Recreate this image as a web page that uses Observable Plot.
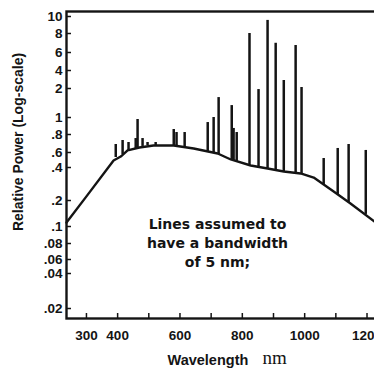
<!DOCTYPE html>
<html><head><meta charset="utf-8">
<script src="https://cdn.jsdelivr.net/npm/d3@7"></script>
<script src="https://cdn.jsdelivr.net/npm/@observablehq/plot@0.6"></script>
<style>body{margin:0;background:#fff;overflow:hidden} svg{overflow:hidden !important}</style>
</head><body><div id="chart"></div>
<script>
// Continuum curve (wavelength nm, relative power)
const curveNm  = [236, 300, 387, 410, 432, 470, 515, 580, 644, 721, 763, 827, 881, 933, 987, 1029, 1061, 1093, 1147, 1224];
const curveVal = [0.111, 0.218, 0.483, 0.538, 0.620, 0.650, 0.671, 0.671, 0.640, 0.584, 0.497, 0.422, 0.392, 0.368, 0.353, 0.324, 0.280, 0.242, 0.185, 0.114];

// Emission lines: wavelength, base (on continuum) and tip values
const lineNm   = [394, 416, 435, 458, 464, 480, 496, 522, 580, 589, 615, 689, 708, 724, 766, 772, 782, 823, 852, 881, 907, 933, 971, 990, 1061, 1106, 1141, 1196];
const lineBase = [0.524, 0.568, 0.620, 0.640, 0.650, 0.661, 0.671, 0.671, 0.671, 0.671, 0.650, 0.610, 0.600, 0.568, 0.497, 0.483, 0.471, 0.434, 0.411, 0.392, 0.376, 0.364, 0.353, 0.353, 0.280, 0.227, 0.190, 0.138];
const lineTop  = [0.682, 0.727, 0.704, 0.750, 0.974, 0.750, 0.704, 0.704, 0.854, 0.821, 0.821, 0.936, 1.0, 1.61, 1.33, 0.866, 0.821, 8.0, 1.95, 9.5, 6.9, 2.72, 6.67, 2.08, 0.510, 0.640, 0.682, 0.620];

// Axis ticks (the printed log axis is unevenly spaced; its scale follows the printed tick positions)
const yTicks      = [10, 8, 6, 4, 2, 1, 0.8, 0.6, 0.4, 0.2, 0.1, 0.08, 0.06, 0.04, 0.02];
const yTickLabels = ["10", "8", "6", "4", "2", "1", ".8", ".6", ".4", ".2", ".1", ".08", ".06", ".04", ".02"];
const xTickMarks  = [300, 400, 500, 600, 700, 800, 900, 1000, 1100, 1200];
const xTicks      = [300, 400, 600, 800, 1000, 1200];
const xTickLabels = ["300", "400", "600", "800", "1000", "1200"];

const yLabel = "Relative Power (Log-scale)";
const xLabel = "Wavelength";
const xUnit = "nm";
const note = "Lines assumed to\nhave a bandwidth\nof 5 nm;";

const curve = curveNm.map((x, i) => ({x, y: curveVal[i]}));
const lines = lineNm.map((x, i) => ({x, y1: lineBase[i], y2: lineTop[i]}));
const ink = "#141414";

// scale configuration: piecewise log scale matching the printed axis
const yDomain = [10.7, ...yTicks, 0.0164];
const yRange  = [11, 16, 33, 52, 70, 88, 117, 134, 152, 167, 200, 226, 243, 259, 273, 308, 318];

const chart = Plot.plot({
  width: 374, height: 372,
  marginLeft: 66, marginRight: 0, marginTop: 11, marginBottom: 54,
  style: {fontFamily: "'Liberation Sans', Arial, sans-serif", color: ink, background: "#fff"},
  x: {domain: [236, 1224], label: null, axis: null},
  y: {type: "log", domain: yDomain, range: yRange, label: null, axis: null},
  marks: [
    Plot.frame({stroke: ink, strokeWidth: 2.4, insetRight: -8}),
    Plot.tickY(yTicks, {y: d => d, insetRight: 303, stroke: ink, strokeWidth: 1.5}),
    Plot.tickX(xTickMarks, {x: d => d, insetTop: 302, stroke: ink, strokeWidth: 1.5}),
    Plot.text(yTicks, {y: d => d, text: (d, i) => yTickLabels[i], frameAnchor: "left", textAnchor: "end", dx: -4, fontSize: 13.5, fontWeight: "bold", fill: ink}),
    Plot.text(xTicks, {x: d => d, text: (d, i) => xTickLabels[i], frameAnchor: "bottom", dy: 21, fontSize: 13.5, fontWeight: "bold", fill: ink}),
    Plot.ruleX(lines, {x: "x", y1: "y1", y2: "y2", stroke: ink, strokeWidth: 2.5}),
    Plot.line(curve, {x: "x", y: "y", stroke: ink, strokeWidth: 2.4, curve: "linear", strokeLinejoin: "round"}),
    Plot.text([yLabel], {text: d => d, frameAnchor: "left", rotate: -90, dx: -48, dy: -23, fontSize: 14, fontWeight: "bold", textAnchor: "middle", fill: ink}),
    Plot.text([xLabel], {text: d => d, frameAnchor: "bottom", textAnchor: "start", dx: -53, dy: 46, fontSize: 14.5, fontWeight: "bold", fill: ink}),
    Plot.text([xUnit], {text: d => d, frameAnchor: "bottom", textAnchor: "start", dx: 42, dy: 45, fontSize: 19, fontFamily: "'Liberation Serif', serif", fill: ink}),
    Plot.text([note], {text: d => d, frameAnchor: "middle", dx: -3, dy: 77, lineHeight: 1.36, fontSize: 14, fontFamily: "'DejaVu Sans', sans-serif", fontWeight: "bold", fill: ink})
  ]
});
document.getElementById("chart").appendChild(chart);
</script>
</body></html>
